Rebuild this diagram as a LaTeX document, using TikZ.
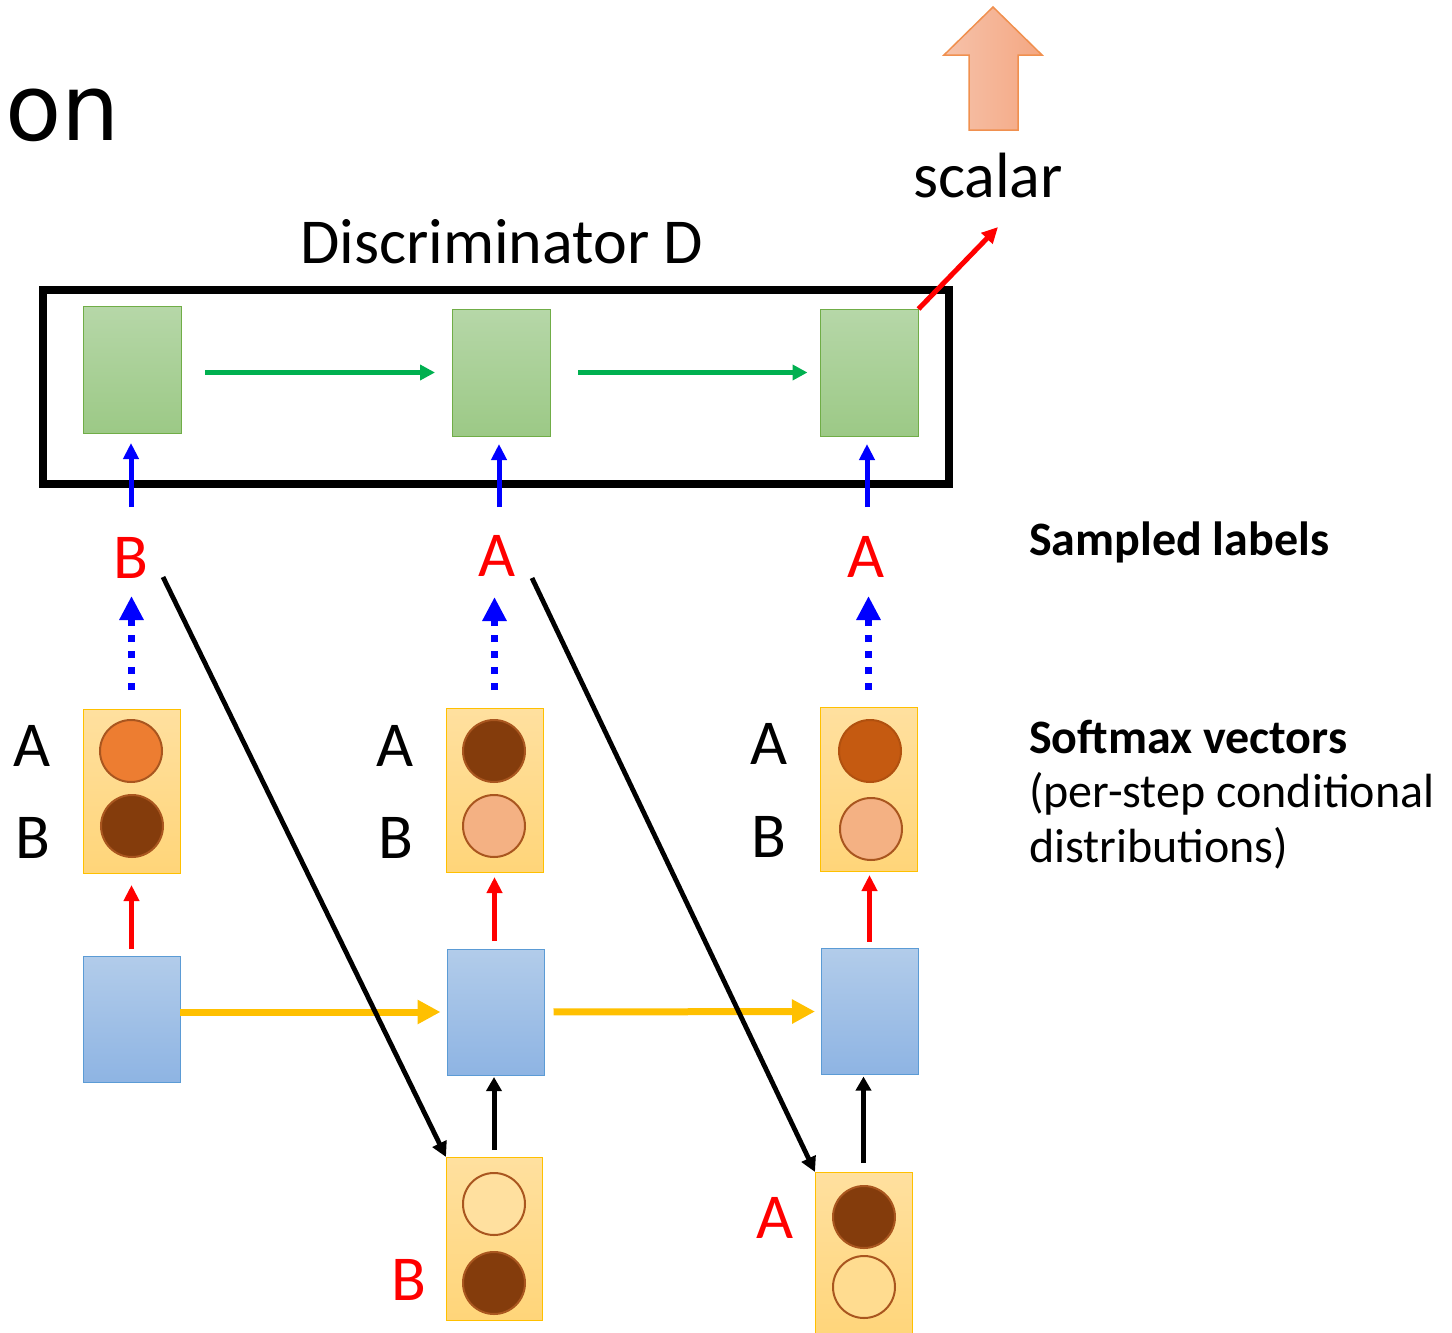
\documentclass[tikz,border=0pt]{standalone}
\usepackage{fontspec}
\setmainfont{Carlito}
\newfontfamily\headfont{DejaVu Sans}
\usetikzlibrary{arrows.meta}

\definecolor{gtop}{HTML}{B6D7A8}
\definecolor{gbot}{HTML}{9CC986}
\definecolor{gline}{HTML}{70AD47}
\definecolor{btop}{HTML}{B2CCEA}
\definecolor{bbot}{HTML}{8EB4E3}
\definecolor{bline}{HTML}{5B9BD5}
\definecolor{ytop}{HTML}{FFE09F}
\definecolor{ybot}{HTML}{FFD579}
\definecolor{yline}{HTML}{FFC000}
\definecolor{ring}{HTML}{A9561F}
\definecolor{pOrange}{HTML}{ED7D31}
\definecolor{pDark}{HTML}{843C0C}
\definecolor{pMid}{HTML}{C55A11}
\definecolor{pLight}{HTML}{F4B183}
\definecolor{arrL}{HTML}{F6C2AA}
\definecolor{arrR}{HTML}{F4A782}
\definecolor{arrLine}{HTML}{F0904F}
\definecolor{cBlue}{HTML}{0000FF}
\definecolor{cRed}{HTML}{FF0000}
\definecolor{cGreen}{HTML}{00B050}

\begin{document}
\begin{tikzpicture}[x=0.5pt,y=-0.5pt,
  txt/.style={inner sep=0pt, outer sep=0pt, font=\fontsize{32}{38}\selectfont},
  side/.style={inner sep=0pt, outer sep=0pt, anchor=base west, font=\fontsize{24}{28}\selectfont},
  dbox/.style={draw=gline, line width=0.5pt, top color=gtop, bottom color=gbot,
    minimum width=49pt, minimum height=63.5pt, inner sep=0pt, outer sep=0pt},
  hbox/.style={draw=bline, line width=0.5pt, top color=btop, bottom color=bbot,
    minimum width=48.5pt, minimum height=63pt, inner sep=0pt, outer sep=0pt},
  sbox/.style={draw=yline, line width=0.5pt, top color=ytop, bottom color=ybot,
    minimum width=48.5pt, minimum height=82pt, inner sep=0pt, outer sep=0pt},
  prob/.style={circle, draw=ring, line width=1pt, minimum size=31pt, inner sep=0pt},
  frame/.style={draw=black, line width=4pt, minimum width=453pt, minimum height=97pt,
    inner sep=0pt, outer sep=0pt},
  bluearr/.style={draw=cBlue, line width=2.5pt, -{Triangle[length=8pt,width=7.5pt]}},
  dotarr/.style={draw=cBlue, line width=3.5pt, dash pattern=on 3.5pt off 4.5pt,
    -{Triangle[length=12pt,width=11.5pt]}},
  greenarr/.style={draw=cGreen, line width=2.5pt, -{Triangle[length=7.5pt,width=7.5pt]}},
  redarr/.style={draw=cRed, line width=2.5pt, -{Triangle[length=8pt,width=7.5pt]}},
  yelarr/.style={draw=yline, line width=3.5pt, -{Triangle[length=11.5pt,width=11.5pt]}},
  blkarr/.style={draw=black, line width=2.5pt, -{Triangle[length=7pt,width=7.5pt]}},
  diagarr/.style={draw=black, line width=2.4pt, -{Triangle[length=7.5pt,width=7.5pt]}}
]
\useasboundingbox (0,0) rectangle (1452,1333);

% heading fragment
\node[inner sep=0pt, anchor=base west, font=\headfont\fontsize{46}{55}\selectfont] (head) at (5,140) {on};

% output arrow above the discriminator
\path[draw=arrLine, line width=0.75pt, left color=arrL, right color=arrR]
  (993,7) -- (1042,55) -- (1018,55) -- (1018,130) -- (969,130) -- (969,55) -- (944,55) -- cycle;
\node[txt, anchor=base west] (scal) at (913,197) {scalar};

% discriminator
\node[txt, anchor=base west] (dtitle) at (300,263) {Discriminator D};
\node[frame] (disc) at (496,387) {};
\node[dbox] (d1) at (132,369.5) {};
\node[dbox] (d2) at (501,372.5) {};
\node[dbox] (d3) at (869.5,372.5) {};
\coordinate (sc) at (998,227);
\draw[greenarr, shorten <=12pt, shorten >=8.5pt] (d1.east |- d2.west) -- (d2.west);
\draw[greenarr, shorten <=14pt, shorten >=6.5pt] (d2.east) -- (d3.west);
\draw[redarr] (d3.north east) -- (sc);

% sampled labels
\node[txt, anchor=base, text=cRed] (l1) at (131,578) {B};
\node[txt, anchor=base, text=cRed] (l2) at (497,576) {A};
\node[txt, anchor=base, text=cRed] (l3) at (866,577) {A};
\coordinate (t1) at (131,507);
\coordinate (t2) at (499,507);
\coordinate (t3) at (867,507);
\draw[bluearr, shorten >=5pt] (t1) -- (t1 |- d1.south);
\draw[bluearr, shorten >=4pt] (t2) -- (t2 |- d2.south);
\draw[bluearr, shorten >=4pt] (t3) -- (t3 |- d3.south);

% softmax vectors
\node[sbox] (s1) at (131.5,791) {};
\node[sbox] (s2) at (494.5,790) {};
\node[sbox] (s3) at (868.5,789) {};
\node[prob, fill=pOrange] (s1a) at (131,751) {};
\node[prob, fill=pDark] (s1b) at (132,826) {};
\node[prob, fill=pDark] (s2a) at (494,751) {};
\node[prob, fill=pLight] (s2b) at (494,826) {};
\node[prob, fill=pMid, draw=pMid!90!black] (s3a) at (870,751) {};
\node[prob, fill=pLight] (s3b) at (871,829) {};
\node[txt, anchor=base] (s1la) at (32,766) {A};
\node[txt, anchor=base] (s1lb) at (33,858) {B};
\node[txt, anchor=base] (s2la) at (395,766) {A};
\node[txt, anchor=base] (s2lb) at (396,858) {B};
\node[txt, anchor=base] (s3la) at (769,764) {A};
\node[txt, anchor=base] (s3lb) at (769,857) {B};

% sampling steps
\draw[dotarr, shorten <=9.5pt, shorten >=9pt] (s1.north) -- (s1.north |- l1.south);
\draw[dotarr, shorten <=9pt, shorten >=10.5pt] (s2.north) -- (s2.north |- l2.south);
\draw[dotarr, shorten <=8.5pt, shorten >=9.5pt] (s3.north) -- (s3.north |- l3.south);

% generator states
\node[hbox] (h1) at (131.5,1019) {};
\node[hbox] (h2) at (496,1012) {};
\node[hbox] (h3) at (869.5,1011.5) {};
\draw[redarr, shorten <=3.5pt, shorten >=6pt] (h1.north) -- (h1.north |- s1.south);
\draw[redarr, shorten <=4pt, shorten >=2.5pt] (h2.north -| s2.south) -- (s2.south);
\draw[redarr, shorten <=3.5pt, shorten >=2pt] (h3.north) -- (h3.north |- s3.south);
\draw[yelarr, shorten >=3.5pt] (h1.east |- h2.west) -- (h2.west);
\draw[yelarr, shorten <=4.5pt, shorten >=3pt] (h2.east) -- (h3.west);

% fed-back inputs
\node[sbox, minimum width=48pt, minimum height=81.5pt] (in1) at (494,1238.5) {};
\node[sbox, minimum width=48.5pt, minimum height=85pt] (in2) at (863.5,1257) {};
\node[prob, fill=ytop] (in1a) at (494,1204) {};
\node[prob, fill=pDark] (in1b) at (494,1283) {};
\node[prob, fill=pDark] (in2a) at (864,1217) {};
\node[prob, fill=ytop!60!ybot] (in2b) at (864,1287) {};
\node[txt, anchor=base, text=cRed] (lb) at (409,1300) {B};
\node[txt, anchor=base, text=cRed] (la) at (775,1238) {A};
\draw[blkarr, shorten <=3.5pt, shorten >=1pt] (in1.north) -- (in1.north |- h2.south);
\draw[blkarr, shorten <=4.5pt, shorten >=1pt] (in2.north) -- (in2.north |- h3.south);
\coordinate (f1) at (163,577);
\coordinate (f2) at (532,578);
\draw[diagarr] (f1) -- (in1.north west);
\draw[diagarr] (f2) -- (in2.north west);

% legend
\node[side, font=\bfseries\fontsize{24}{28}\selectfont] (leg1) at (1029,555) {Sampled labels};
\node[side, font=\bfseries\fontsize{24}{28}\selectfont] (leg2) at (1029,753) {Softmax vectors};
\node[side] (leg3) at (1029,807) {(per-step conditional};
\node[side] (leg4) at (1029,862) {distributions)};
\end{tikzpicture}
\end{document}
